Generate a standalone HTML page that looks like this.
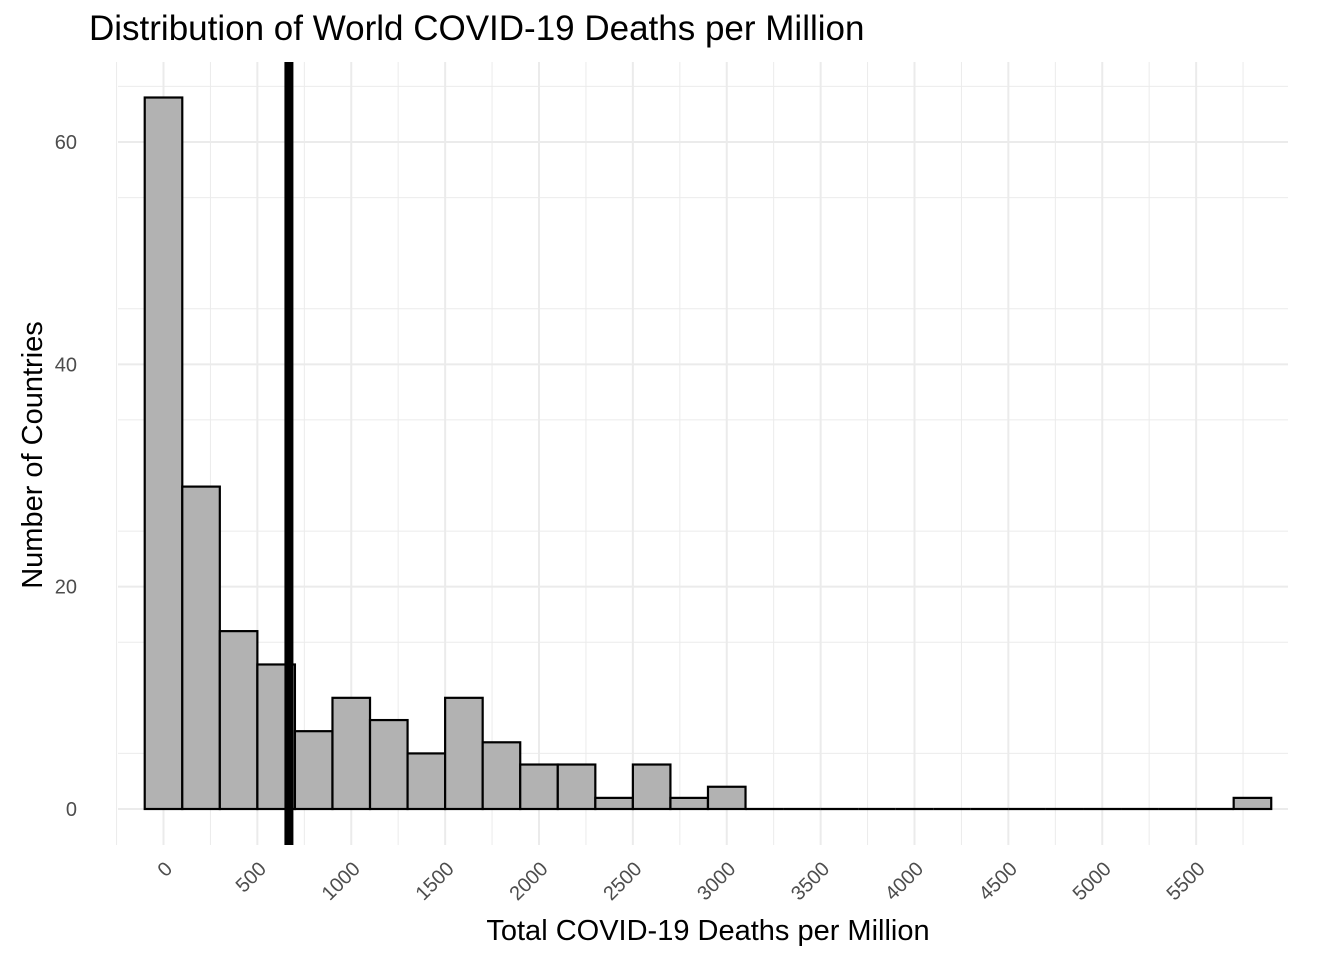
<!DOCTYPE html>
<html><head><meta charset="utf-8"><style>
body{margin:0;background:#fff;}
svg text{font-family:"Liberation Sans",Arial,sans-serif;}
</style></head><body>
<svg id="chart" width="1344" height="960" xmlns="http://www.w3.org/2000/svg">
<text x="89" y="40" font-size="35" fill="#000">Distribution of World COVID-19 Deaths per Million</text>
<g id="grid"></g>
<g id="bars"></g>
<g id="xticks"></g>
<g id="yticks"></g>
<text x="708" y="940" font-size="29" text-anchor="middle" fill="#000">Total COVID-19 Deaths per Million</text>
<text transform="translate(42,455) rotate(-90)" font-size="29" text-anchor="middle" fill="#000">Number of Countries</text>
</svg>
<script>
const binCenters=[0,200,400,600,800,1000,1200,1400,1600,1800,2000,2200,2400,2600,2800,3000,3200,3400,3600,3800,4000,4200,4400,4600,4800,5000,5200,5400,5600,5800];
const counts=[64,29,16,13,7,10,8,5,10,6,4,4,1,4,1,2,0,0,0,0,0,0,0,0,0,0,0,0,0,1];
const xTicks=[0,500,1000,1500,2000,2500,3000,3500,4000,4500,5000,5500];
const yTicks=[0,20,40,60];
const meanValue=668;
const binWidth=200;
const ns="http://www.w3.org/2000/svg";
const X=v=>163.5+v*0.18775;
const Y=v=>809-v*11.117;
const L=118,R=1288,T=62,B=845;
function mk(tag,attrs,parent){const e=document.createElementNS(ns,tag);for(const k in attrs)e.setAttribute(k,attrs[k]);parent.appendChild(e);return e;}
const grid=document.getElementById('grid');
for(let v=-250;v<=5750;v+=250){const major=v%500===0;const l=mk('line',{x1:X(v),x2:X(v),y1:T,y2:B,stroke:'#ebebeb','stroke-width':major?2:1},grid);

}
for(let v=-5;v<=65;v+=10){if(Y(v)<T||Y(v)>B)continue;const l=mk('line',{x1:L,x2:R,y1:Y(v),y2:Y(v),stroke:'#ebebeb','stroke-width':1},grid);

}
yTicks.forEach(v=>{const l=mk('line',{x1:L,x2:R,y1:Y(v),y2:Y(v),stroke:'#ebebeb','stroke-width':2},grid);

});
const bars=document.getElementById('bars');
binCenters.forEach((c,i)=>{const x0=X(c-binWidth/2),x1=X(c+binWidth/2);
if(counts[i]>0){const r=mk('rect',{x:x0,y:Y(counts[i]),width:x1-x0,height:Y(0)-Y(counts[i]),fill:'#b2b2b2',stroke:'#000','stroke-width':2.2},bars);

}
else{const r=mk('line',{x1:x0,x2:x1,y1:Y(0),y2:Y(0),stroke:'#000','stroke-width':2.2},bars);

}});
const ml=mk('line',{x1:X(meanValue),x2:X(meanValue),y1:T,y2:B,stroke:'#000','stroke-width':9},bars);


const xt=document.getElementById('xticks');
xTicks.forEach(v=>{const t=mk('text',{transform:`translate(${X(v)+10},${870}) rotate(-45)`,'font-size':20,fill:'#4d4d4d','text-anchor':'end'},xt);t.textContent=v;

});
const yt=document.getElementById('yticks');
yTicks.forEach(v=>{const t=mk('text',{x:77,y:Y(v)+7,'font-size':20,fill:'#4d4d4d','text-anchor':'end'},yt);t.textContent=v;

});
</script>
</body></html>
